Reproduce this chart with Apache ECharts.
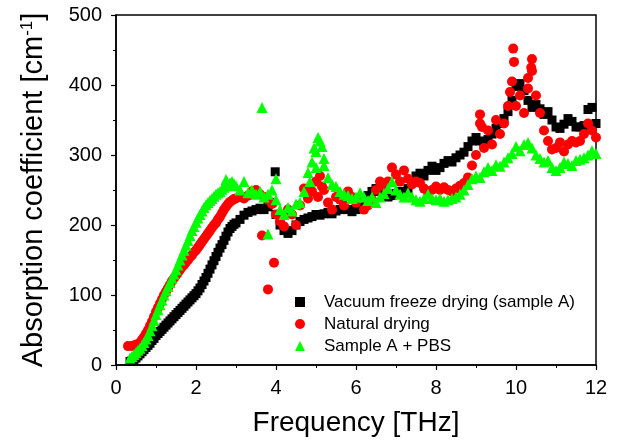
<!DOCTYPE html>
<html>
<head>
<meta charset="utf-8">
<script src="https://cdn.jsdelivr.net/npm/echarts@6/dist/echarts.min.js"></script>
<style>html,body{margin:0;padding:0;background:#fff}#c{width:621px;height:442px}</style>
</head>
<body>
<div id="c"></div>
<script>
var freq = [0.4,0.5,0.6,0.7,0.8,0.9,1.0,1.1,1.2,1.3,1.4,1.5,1.6,1.7,1.8,1.9,2.0,2.1,2.2,2.3,2.4,2.5,2.6,2.7,2.8,2.9,3.0,3.1,3.2,3.3,3.4,3.5,3.6,3.7,3.8,3.9,4.0,4.1,4.2,4.3,4.4,4.5,4.6,4.7,4.8,4.9,5.0,5.1,5.2,5.3,5.4,5.5,5.6,5.7,5.8,5.9,6.0,6.1,6.2,6.3,6.4,6.5,6.6,6.7,6.8,6.9,7.0,7.1,7.2,7.3,7.4,7.5,7.6,7.7,7.8,7.9,8.0,8.1,8.2,8.3,8.4,8.5,8.6,8.7,8.8,8.9,9.0,9.1,9.2,9.3,9.4,9.5,9.6,9.7,9.8,9.9,10.0,10.1,10.2,10.3,10.4,10.5,10.6,10.7,10.8,10.9,11.0,11.1,11.2,11.3,11.4,11.5,11.6,11.7,11.8,11.9,12.0];
var freqHalf = [0.45,0.55,0.65,0.75,0.85,0.95,1.05,1.15,1.25,1.35,1.45,1.55,1.65,1.75,1.85,1.95,2.05,2.15,2.25,2.35,2.45,2.55,2.65,2.75,2.85,2.95];

var vacuum = [6,10,16,22,28,35,42,48,54,60,66,72,78,84,90,96,102,110,120,131,143,155,167,178,190,198,203,208,214,218,220,222,224,222,226,232,215,200,192,188,192,200,205,208,210,212,215,214,216,218,216,220,222,225,222,219,222,228,235,242,248,252,248,244,240,242,245,248,246,252,262,270,274,270,278,284,278,282,288,292,290,296,300,304,312,320,325,320,318,322,330,338,345,352,362,378,398,402,392,378,368,372,366,358,362,350,340,338,344,352,348,340,340,342,365,368,345];
var vacuumHalf = [8,13,19,25,31,38,45,51,57,63,69,75,81,87,93,99,106,115,125,137,149,161,172,184,195,201];
var vacuumExtraX = [3.98, 0.35];
var vacuumExtraY = [276, 5];

var natural = [27,29,32,40,50,62,76,88,100,110,120,128,136,143,150,157,164,172,180,188,196,203,212,222,230,235,238,240,238,242,248,250,244,240,236,230,215,205,198,222,215,200,228,252,238,248,262,270,250,232,222,240,236,228,248,240,232,238,222,228,236,250,262,255,262,282,272,262,278,266,258,262,260,252,246,250,255,250,254,250,248,252,256,260,268,285,300,345,310,335,315,350,330,345,370,405,370,385,360,395,420,385,360,335,320,308,310,318,305,315,320,318,320,330,345,335,325];
var naturalHalf = [28,30,36,45,56,69,82,94,105,115,124,132,140,147,154,161,168,176,184,192,200,208,217,226,233,237];
var naturalExtraX = [0.3, 3.65, 3.8, 3.95, 5.05, 5.15, 9.1, 9.15, 9.85, 9.93, 9.95, 10.3, 10.38, 10.4];
var naturalExtraY = [27, 185, 108, 146, 240, 255, 358, 340, 390, 452, 433, 410, 425, 437];

var pbs = [12,18,24,32,42,56,72,86,100,112,124,136,150,164,178,192,204,215,225,232,238,244,248,254,258,262,256,250,262,246,250,244,248,240,244,250,236,222,215,225,220,230,232,248,275,290,305,320,295,268,258,255,248,244,242,238,240,246,240,235,240,232,240,245,252,262,250,244,240,246,240,236,234,238,244,238,236,238,234,236,238,240,244,250,258,266,270,268,276,282,278,286,284,290,296,302,312,306,315,318,310,300,295,290,292,282,278,282,290,288,285,292,294,296,300,306,302];
var pbsHalf = [15,21,28,37,49,64,79,93,106,118,130,143,157,171,185,198,210,220,229,235,241,246,251,256,260,259];
var pbsExtraX = [0.35, 2.75, 3.65, 3.8, 4.0, 4.85, 4.95, 5.0, 5.05, 5.15, 5.2];
var pbsExtraY = [10, 265, 368, 187, 266, 262, 310, 282, 325, 312, 285];

var xTicks = [0, 2, 4, 6, 8, 10, 12];
var yTicks = [0, 100, 200, 300, 400, 500];

function pairs(xs, ys, hx, hy, ex, ey) {
  var out = [], i;
  for (i = 0; i < xs.length; i++) out.push([xs[i], ys[i]]);
  for (i = 0; i < hx.length; i++) out.push([hx[i], hy[i]]);
  for (i = 0; i < ex.length; i++) out.push([ex[i], ey[i]]);
  return out;
}

var FONT = '"Liberation Sans", Arial, sans-serif';
var chart = echarts.init(document.getElementById('c'), null, {renderer: 'canvas'});
chart.setOption({
  animation: false,
  backgroundColor: '#fff',
  grid: {left: 116, right: 25, top: 15, bottom: 75, show: true, borderColor: '#000', borderWidth: 1.5, containLabel: false},
  xAxis: {
    type: 'value', min: xTicks[0], max: xTicks[xTicks.length - 1], interval: 2,
    name: 'Frequency [THz]', nameLocation: 'middle', nameGap: 44,
    nameTextStyle: {fontFamily: FONT, fontSize: 28, color: '#000'},
    axisLine: {onZero: false, lineStyle: {color: '#000', width: 1.5}},
    axisTick: {inside: false, length: 5, lineStyle: {color: '#000', width: 1.2}},
    minorTick: {show: true, splitNumber: 2, length: 3, lineStyle: {color: '#000', width: 1}},
    axisLabel: {fontFamily: FONT, fontSize: 20, color: '#000', margin: 13},
    splitLine: {show: false}
  },
  yAxis: {
    type: 'value', min: yTicks[0], max: yTicks[yTicks.length - 1], interval: 100,
    name: 'Absorption coefficient [cm{sup|-1}]', nameLocation: 'middle', nameGap: 67,
    nameTextStyle: {fontFamily: FONT, fontSize: 29, color: '#000',
      rich: {sup: {fontFamily: FONT, fontSize: 17, color: '#000', verticalAlign: 'bottom', padding: [0, 0, 13, 0]}}},
    axisLine: {onZero: false, lineStyle: {color: '#000', width: 1.5}},
    axisTick: {inside: false, length: 5, lineStyle: {color: '#000', width: 1.2}},
    minorTick: {show: true, splitNumber: 2, length: 3, lineStyle: {color: '#000', width: 1}},
    axisLabel: {fontFamily: FONT, fontSize: 20, color: '#000', margin: 14},
    splitLine: {show: false}
  },
  legend: {
    orient: 'vertical', left: 290, top: 288, itemWidth: 10, itemHeight: 10, itemGap: 4,
    textStyle: {fontFamily: FONT, fontSize: 17, color: '#000', padding: [0, 0, 0, 14], lineHeight: 18},
    data: ['Vacuum freeze drying (sample A)', 'Natural drying', 'Sample A + PBS']
  },
  series: [
    {name: 'Vacuum freeze drying (sample A)', type: 'scatter', symbol: 'rect', symbolSize: 9,
     itemStyle: {color: '#000', opacity: 1}, data: pairs(freq, vacuum, freqHalf, vacuumHalf, vacuumExtraX, vacuumExtraY)},
    {name: 'Natural drying', type: 'scatter', symbol: 'circle', symbolSize: 10,
     itemStyle: {color: '#ff0000', opacity: 1}, data: pairs(freq, natural, freqHalf, naturalHalf, naturalExtraX, naturalExtraY)},
    {name: 'Sample A + PBS', type: 'scatter', symbol: 'triangle', symbolSize: 11,
     itemStyle: {color: '#00ff00', opacity: 1}, data: pairs(freq, pbs, freqHalf, pbsHalf, pbsExtraX, pbsExtraY)}
  ]
});
</script>
</body>
</html>
